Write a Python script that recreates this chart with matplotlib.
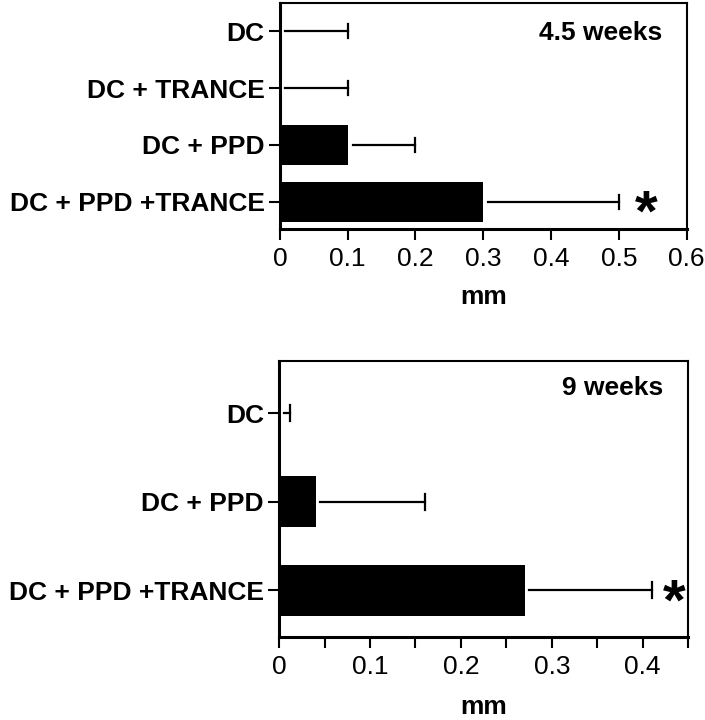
import numpy as np
import matplotlib.pyplot as plt

plt.rcParams['font.family'] = ['Liberation Sans', 'DejaVu Sans']

# 4.5 weeks panel (bottom-to-top order)
groups_45 = ['DC + PPD +TRANCE', 'DC + PPD', 'DC + TRANCE', 'DC']
values_45 = [0.30, 0.10, 0.0, 0.0]
errors_45 = [0.20, 0.10, 0.10, 0.10]
stars_45 = [True, False, False, False]

# 9 weeks panel
groups_9 = ['DC + PPD +TRANCE', 'DC + PPD', 'DC']
values_9 = [0.27, 0.04, 0.0]
errors_9 = [0.14, 0.12, 0.012]
stars_9 = [True, False, False]

xticks_45 = [0, 0.1, 0.2, 0.3, 0.4, 0.5, 0.6]
xticks_9 = [0, 0.1, 0.2, 0.3, 0.4]


def draw_panel(ax, groups, values, errors, stars, title, title_y, xmax,
               xticks, minor, bar_h, ylim, star_x, capsize, labelpad):
    y = np.arange(len(groups))
    ax.barh(y, values, height=bar_h, color='black', zorder=2)
    # one-sided error bars, starting just right of the bar end
    gap = xmax * 0.012
    for yi, v, e in zip(y, values, errors):
        start = v + gap
        ax.plot([start, v + e], [yi, yi], color='black', lw=1.6, zorder=3)
        ax.plot([v + e, v + e], [yi - capsize, yi + capsize], color='black',
                lw=1.6, zorder=3)
    for yi, s in zip(y, stars):
        if s:
            ax.annotate('*', (star_x, yi), xytext=(0, -10),
                        textcoords='offset points', fontsize=42,
                        fontweight='bold', ha='center', va='center')
    ax.set_xlim(0, xmax)
    ax.set_ylim(*ylim)
    ax.set_yticks(y)
    ax.set_yticklabels(groups, fontsize=19, fontweight='bold')
    ax.set_xticks(xticks)
    ax.set_xticklabels([f'{t:g}' for t in xticks], fontsize=19)
    if minor:
        ax.set_xticks(minor, minor=True)
        ax.tick_params(axis='x', which='minor', direction='out', length=8,
                       width=1.5)
    ax.tick_params(axis='x', which='major', direction='out', length=8,
                   width=1.5, pad=5)
    ax.tick_params(axis='y', direction='out', length=8, width=1.5, pad=3)
    ax.set_xlabel('mm', fontsize=19, fontweight='bold', labelpad=labelpad)
    for side in ['left', 'bottom']:
        ax.spines[side].set_linewidth(2.2)
    for side in ['top', 'right']:
        ax.spines[side].set_linewidth(1.5)
    ax.text(0.94, title_y, title, transform=ax.transAxes, fontsize=19,
            fontweight='bold', ha='right', va='center')


fig = plt.figure(figsize=(7.05, 7.2), dpi=100)
ax1 = fig.add_axes([0.397, 0.682, 0.577, 0.314])
ax2 = fig.add_axes([0.396, 0.115, 0.580, 0.384])

draw_panel(ax1, groups_45, values_45, errors_45, stars_45, '4.5 weeks', 0.867,
           0.6, xticks_45, None, 0.7, (-0.48, 3.5), 0.541, 0.12, 10)
draw_panel(ax2, groups_9, values_9, errors_9, stars_9, '9 weeks', 0.902,
           0.45, xticks_9, [0.05, 0.15, 0.25, 0.35, 0.45], 0.58,
           (-0.53, 2.59), 0.435, 0.09, 11)

fig.savefig('out.png', dpi=100)
